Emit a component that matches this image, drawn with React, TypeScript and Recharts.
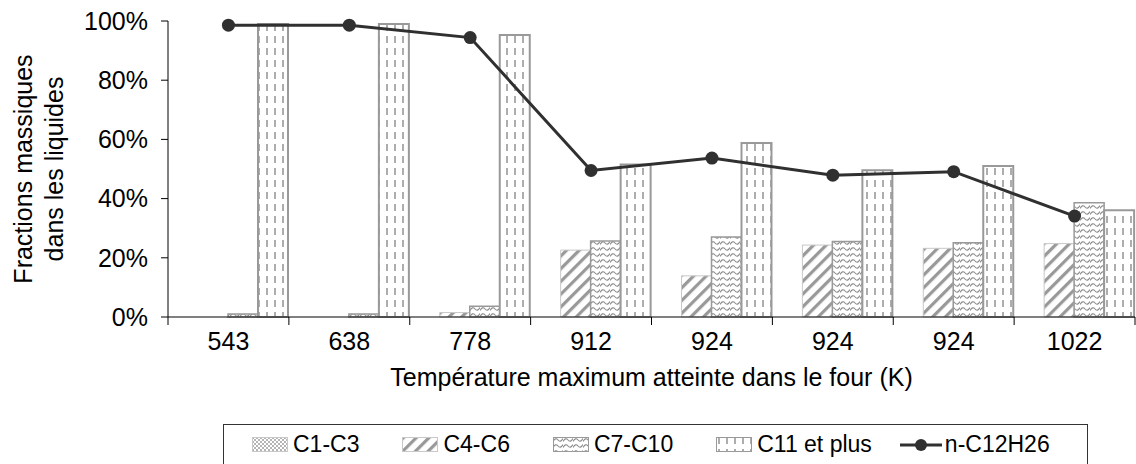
import React from 'react'
import {
  ComposedChart, Bar, Line, XAxis, YAxis, Legend,
} from 'recharts'

// ── Data ─────────────────────────────────────────────────────────────────────
const TEMPS = ['543', '638', '778', '912', '924', '924', '924', '1022']
const C1_C3 = [0, 0, 0, 0, 0, 0, 0, 0]
const C4_C6 = [0, 0, 0.015, 0.226, 0.139, 0.243, 0.232, 0.248]
const C7_C10 = [0.01, 0.01, 0.036, 0.257, 0.27, 0.255, 0.251, 0.386]
const C11_PLUS = [0.99, 0.99, 0.953, 0.515, 0.588, 0.496, 0.51, 0.361]
const N_C12H26 = [0.986, 0.986, 0.944, 0.495, 0.537, 0.479, 0.491, 0.341]
const Y_TICKS = [0, 0.2, 0.4, 0.6, 0.8, 1]

const data = TEMPS.map((temp, i) => ({
  temp,
  c1: C1_C3[i],
  c4: C4_C6[i],
  c7: C7_C10[i],
  c11: C11_PLUS[i],
  n12: N_C12H26[i],
}))

const FONT = "'Liberation Sans', Arial, sans-serif"
const W = 1136
const H = 464
const Y_AXIS_W = 168
const MARGIN = { top: 21, right: 1, bottom: 0, left: 0 }
const BAND = (W - Y_AXIS_W - MARGIN.left - MARGIN.right) / TEMPS.length

const SERIES = [
  { key: 'c1', label: 'C1-C3', fill: 'url(#pat-c1)', stroke: '#c8c8c8', sw: 1 },
  { key: 'c4', label: 'C4-C6', fill: 'url(#pat-c4)', stroke: '#c8c8c8', sw: 1 },
  { key: 'c7', label: 'C7-C10', fill: 'url(#pat-c7)', stroke: '#999', sw: 1.5 },
  { key: 'c11', label: 'C11 et plus', fill: 'url(#pat-c11)', stroke: '#999', sw: 2 },
]

// ── Patterns (shared by bars and legend swatches) ────────────────────────────
function Patterns() {
  return (
    <svg width="0" height="0" style={{ position: 'absolute' }}>
      <defs>
        <pattern id="pat-c1" width="4" height="4" patternUnits="userSpaceOnUse">
          <rect width="4" height="4" fill="#fff" />
          <rect width="2" height="2" fill="#b4b4b4" />
          <rect x="2" y="2" width="2" height="2" fill="#b4b4b4" />
        </pattern>
        <pattern id="pat-c4" width="9" height="9" patternUnits="userSpaceOnUse" patternTransform="rotate(45)">
          <rect width="9" height="9" fill="#fff" />
          <rect width="3.2" height="9" fill="#999" />
        </pattern>
        <pattern id="pat-c7" width="10" height="6" patternUnits="userSpaceOnUse">
          <rect width="10" height="6" fill="#fff" />
          <path d="M0 4.5 Q2.5 0 5 3 Q7.5 6 10 1.5" stroke="#8a8a8a" strokeWidth="1.1" fill="none" />
        </pattern>
        <pattern id="pat-c11" width="8" height="24" patternUnits="userSpaceOnUse">
          <rect width="8" height="24" fill="#fff" />
          <path d="M3 0 V7 M3 12 V19" stroke="#999" strokeWidth="1.6" />
        </pattern>
      </defs>
    </svg>
  )
}

// ── Axis pieces ──────────────────────────────────────────────────────────────
function CategoryTick(props: any) {
  const { x, y, payload, index } = props
  const half = BAND / 2
  const last = index === TEMPS.length - 1
  return (
    <g>
      <line x1={x - half} x2={x - half} y1={y} y2={y + 8} stroke="#000" />
      {last && <line x1={x + half} x2={x + half} y1={y} y2={y + 8} stroke="#000" />}
      <text x={x} y={y + 33} textAnchor="middle" fontSize={25} fontFamily={FONT} fill="#000">
        {payload.value}
      </text>
    </g>
  )
}

function XTitle(props: any) {
  const { viewBox } = props
  return (
    <text x={viewBox.x + viewBox.width / 2} y={viewBox.y + 69} textAnchor="middle"
      fontSize={25} fontFamily={FONT} fill="#000">
      Température maximum atteinte dans le four (K)
    </text>
  )
}

function YTitle(props: any) {
  const { viewBox } = props
  const cy = viewBox.y + viewBox.height / 2
  return (
    <g fontSize={25} fontFamily={FONT} fill="#000">
      <text x={23} y={cy} transform={`rotate(-90, 23, ${cy})`} textAnchor="middle" dominantBaseline="central">
        Fractions massiques
      </text>
      <text x={54} y={cy} transform={`rotate(-90, 54, ${cy})`} textAnchor="middle" dominantBaseline="central">
        dans les liquides
      </text>
    </g>
  )
}

function LegendBox() {
  return (
    <div style={{
      marginLeft: 223, width: 865, height: 40, boxSizing: 'border-box',
      border: '1px solid #333', borderBottom: 'none',
      display: 'flex', alignItems: 'center', paddingLeft: 28, gap: 43,
      fontFamily: FONT, fontSize: 23, color: '#000',
    }}>
      {SERIES.map(s => (
        <div key={s.key} style={{ display: 'flex', alignItems: 'center', gap: 5 }}>
          <svg width="36" height="16">
            <rect x="0.5" y="0.5" width="35" height="14" fill={s.fill} stroke={s.stroke} />
          </svg>
          <span>{s.label}</span>
        </div>
      ))}
      <div style={{ display: 'flex', alignItems: 'center', gap: 3, marginLeft: -15 }}>
        <svg width="42" height="16">
          <line x1="0" x2="42" y1="8" y2="8" stroke="#303030" strokeWidth="3" />
          <circle cx="21" cy="8" r="6" fill="#303030" />
        </svg>
        <span>n-C12H26</span>
      </div>
    </div>
  )
}

export default function App() {
  return (
    <div style={{ position: 'absolute', left: 0, top: 0, width: W, height: H, background: '#fff' }}>
      <Patterns />
      <ComposedChart width={W} height={H} data={data} margin={MARGIN} barCategoryGap={0} barGap={0}>
        <XAxis
          dataKey="temp"
          height={107}
          interval={0}
          tickSize={0}
          tickMargin={0}
          tick={CategoryTick}
          axisLine={{ stroke: '#000' }}
          label={{ content: XTitle }}
        />
        <YAxis
          width={Y_AXIS_W}
          domain={[0, 1]}
          ticks={Y_TICKS}
          tickFormatter={(v: number) => `${Math.round(v * 100)}%`}
          tick={{ fontSize: 25, fontFamily: FONT, fill: '#000' }}
          tickSize={7}
          tickMargin={13}
          tickLine={{ stroke: '#000' }}
          axisLine={{ stroke: '#000' }}
          label={{ content: YTitle }}
        />
        <Legend verticalAlign="bottom" height={40} content={LegendBox} />
        {SERIES.map(s => (
          <Bar key={s.key} dataKey={s.key} fill={s.fill} stroke={s.stroke} strokeWidth={s.sw}
            isAnimationActive={false} />
        ))}
        <Line dataKey="n12" stroke="#303030" strokeWidth={3} type="linear"
          dot={{ r: 6.5, fill: '#303030', stroke: '#303030', strokeWidth: 0 }}
          activeDot={false} isAnimationActive={false} />
      </ComposedChart>
    </div>
  )
}
